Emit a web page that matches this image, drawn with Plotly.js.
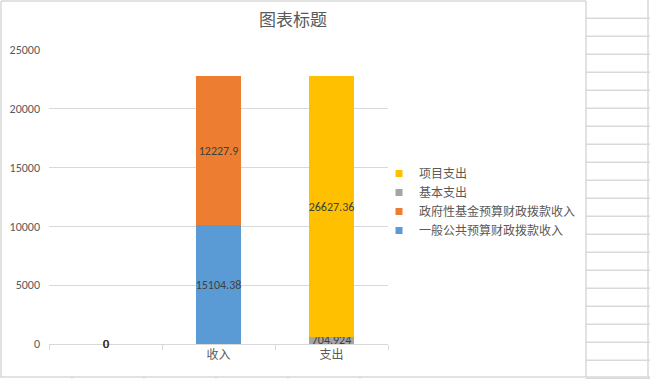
<!DOCTYPE html>
<html>
<head>
<meta charset="utf-8">
<script src="https://cdn.plot.ly/plotly-3.0.1.min.js"></script>
<style>html,body{margin:0;padding:0;background:#fff;}#chart{width:650px;height:379px;}</style>
</head>
<body>
<div id="chart"></div>
<script>
// Categories and series (bar heights as drawn; label texts as printed)
var categories = ["", "收入", "支出"];
var seriesNames = ["一般公共预算财政拨款收入", "政府性基金预算财政拨款收入", "基本支出", "项目支出"];
var generalBudget = [0, 10100, 0];
var fundBudget = [0, 12650, 0];
var basicExpense = [0, 0, 620];
var projectExpense = [0, 0, 22130];
var generalLabels = ["0", "15104.38", ""];
var fundLabels = ["0", "12227.9", ""];
var basicLabels = ["0", "", "704.924"];
var projectLabels = ["0", "", "26627.36"];
var colors = ["#5B9BD5", "#ED7D31", "#A5A5A5", "#FFC000"];
var yTicks = [0, 5000, 10000, 15000, 20000, 25000];

var FONT = "Calibri, Carlito, Lato, 'Noto Sans CJK SC', sans-serif";
var CJK = "'Noto Sans CJK SC', sans-serif";

var vals = [generalBudget, fundBudget, basicExpense, projectExpense];
var labs = [generalLabels, fundLabels, basicLabels, projectLabels];
var traces = vals.map(function (v, i) {
  return {
    type: "bar",
    name: seriesNames[i],
    x: categories.map(function (c, k) { return k; }),
    y: v,
    text: labs[i],
    textposition: "inside",
    insidetextanchor: "middle",
    constraintext: "none",
    textangle: 0,
    textfont: {family: FONT, size: 12, color: "#404040"},
    marker: {color: colors[i], line: {width: 0}},
    hoverinfo: "none",
    showlegend: false,
    cliponaxis: false
  };
});
// legend entries with small square keys
seriesNames.forEach(function (n, i) {
  traces.push({type: "scatter", mode: "markers", name: n, x: [null], y: [null],
    marker: {symbol: "square", size: 7, color: colors[i]}, showlegend: true, hoverinfo: "none"});
});

// Zero-value labels for the empty category
var zeroAnn = [];
vals.forEach(function (v, i) {
  if (v[0] === 0 && labs[i][0] !== "") {
    zeroAnn.push({x: 0, y: v[0], xref: "x", yref: "y", text: labs[i][0], showarrow: false,
      font: {family: FONT, size: 12, color: ["#7a3a20", "#7a3a20", "#404040", "#404040"][i]}});
  }
});

var L = 49, T = 50, W = 339, H = 294;
function px(x) { return (x - L) / W; }
function py(y) { return (T + H - y) / H; }
var shapes = [];
var grey = "#d9d9d9";
// chart frame
shapes.push({type: "line", xref: "paper", yref: "paper", x0: px(1), x1: px(1), y0: py(1), y1: py(377), line: {color: grey, width: 1.5}});
shapes.push({type: "line", xref: "paper", yref: "paper", x0: px(1), x1: px(586), y0: py(1), y1: py(1), line: {color: grey, width: 1.5}});
shapes.push({type: "line", xref: "paper", yref: "paper", x0: px(586), x1: px(586), y0: py(1), y1: py(377), line: {color: grey, width: 1.5}});
shapes.push({type: "line", xref: "paper", yref: "paper", x0: px(0), x1: px(650), y0: py(377), y1: py(377), line: {color: grey, width: 1.5}});
// spreadsheet cells on the right
shapes.push({type: "line", xref: "paper", yref: "paper", x0: px(648), x1: px(648), y0: py(0), y1: py(379), line: {color: grey, width: 1.5}});
for (var r = 0; r < 21; r++) {
  var yy = 18.3 + r * 18;
  shapes.push({type: "line", xref: "paper", yref: "paper", x0: px(586), x1: px(650), y0: py(yy), y1: py(yy), line: {color: grey, width: 1.5}});
}
// column ticks below the chart
[72, 144, 216, 288, 360].forEach(function (cx) {
  shapes.push({type: "line", xref: "paper", yref: "paper", x0: px(cx), x1: px(cx), y0: py(377), y1: py(379), line: {color: grey, width: 1}});
});

var layout = {
  width: 650, height: 379,
  margin: {l: L, r: 650 - L - W, t: T, b: 379 - T - H, pad: 0},
  paper_bgcolor: "#fff", plot_bgcolor: "#fff",
  barmode: "stack",
  bargap: 0.6,
  showlegend: true,
  title: {text: "图表标题", font: {family: CJK, size: 17, color: "#595959"}, xref: "container", x: 293 / 650, xanchor: "center", yref: "container", y: 1 - 20 / 379, yanchor: "middle"},
  xaxis: {
    type: "linear",
    range: [-0.5, 2.5],
    tickmode: "array",
    tickvals: [0, 1, 2],
    ticktext: categories,
    tickfont: {family: CJK, size: 12, color: "#595959"},
    showgrid: false, zeroline: false,
    showline: true, linecolor: grey, linewidth: 1,
    ticks: "", fixedrange: true
  },
  xaxis2: {
    overlaying: "x", range: [-0.5, 2.5], tickmode: "array", tickvals: [-0.5, 0.5, 1.5, 2.5], ticktext: ["", "", "", ""],
    ticks: "outside", ticklen: 5, tickcolor: grey, showgrid: false, zeroline: false, showline: false, side: "bottom", anchor: "y"
  },
  yaxis: {
    range: [0, 25000],
    tickmode: "array",
    tickvals: yTicks,
    ticktext: yTicks.map(String),
    tickfont: {family: FONT, size: 12, color: "#595959"},
    gridcolor: grey, gridwidth: 1,
    zeroline: false, showline: false, ticks: "",
    ticklabelstandoff: 8,
    fixedrange: true
  },
  legend: {
    x: px(379), xanchor: "left", y: py(159), yanchor: "top",
    traceorder: "reversed",
    font: {family: CJK, size: 12, color: "#595959"},
    itemwidth: 30, tracegroupgap: 0,
    bgcolor: "rgba(0,0,0,0)"
  },
  annotations: zeroAnn,
  shapes: shapes
};

// invisible helper trace to show category boundary ticks on xaxis2
traces.push({type: "scatter", x: [-0.5], y: [0], xaxis: "x2", yaxis: "y", mode: "markers", marker: {opacity: 0}, showlegend: false, hoverinfo: "none"});

Plotly.newPlot("chart", traces, layout, {displayModeBar: false, staticPlot: true});
</script>
</body>
</html>
